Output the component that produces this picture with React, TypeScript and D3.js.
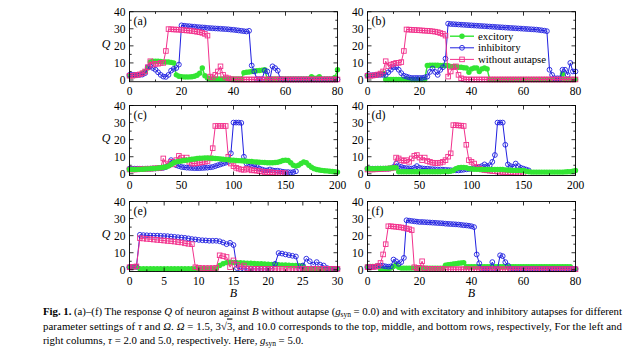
import React from "react";
import * as d3 from "d3";

// colours of the three cases
const GREEN = "#33e533";
const BLUE = "#2020e0";
const PINK = "#f2318c";

// ---- panel (a): B = 0..80, step 1
const aExc = [2.5, 2.5, 2.6, 3, 3.3, 4, 5, 7, 10.5, 11,
  11, 11, 10.8, 10.6, 10.5, 10.5, 10.3, 10, 3, 2.2,
  2, 1.8, 1.8, 1.8, 1.9, 2.2, 2.8, 4, 7, 2.5,
  1.2, 0.6, 0.6, 0.6, 0.6, 0.6, 0.6, 0.6, 0.6, 0.6,
  0.6, 0.6, 0.6, 0.6, 4.2, 4.5, 4.7, 5, 5.2, 5.4,
  5.6, 5.8, 6, 0.6, 0.6, 0.6, 0.6, 0.6, 0.6, 0.6,
  0.6, 0.6, 0.6, 0.6, 0.6, 0.6, 0.6, 0.6, 0.6, 0.6,
  2, 1, 1, 2, 0.6, 0.6, 0.6, 0.6, 0.6, 1.5,
  6];
const aInh = [3, 3, 3, 3, 3, 3.2, 4, 7.5, 8, 7,
  6, 4.5, 3, 2, 1.8, 3, 5.5, 6.5, 7, 9,
  32, 31.8, 31.6, 31.5, 31.3, 31.2, 31, 30.9, 30.8, 30.7,
  30.5, 30.4, 30.3, 30.2, 30.1, 30, 29.9, 29.8, 29.7, 29.5,
  29.4, 29.2, 29, 28.8, 28.6, 28.4, 28.8, 8.5, 5, 0.5,
  0.5, 0.5, 5.5, 5, 0.5, 8, 7, 5.5, 0.5, 0.3,
  0.3, 0.3, 0.3, 0.3, 0.3, 0.3, 0.3, 0.3, 0.3, 0.3,
  0.3, 0.3, 0.3, 0.3, 0.3, 0.3, 0.3, 0.3, 0.3, 0.3,
  0.3];
const aNo = [2.5, 2.5, 2.7, 3, 3.3, 4, 5, 7.5, 11, 9,
  9.5, 9.5, 10, 10, 17, 29.8, 29.7, 29.6, 29.5, 29.5,
  29.3, 29.2, 29, 28.9, 28.7, 28.5, 28.2, 28, 27.6, 27,
  26, 2, 1.5, 3, 5, 8, 3, 1.5, 1, 0.5,
  0.3, 0.3, 0.3, 0.3, 0.3, 0.3, 0.3, 0.3, 0.3, 0.3,
  0.3, 0.3, 0.3, 0.3, 0.3, 0.3, 0.3, 0.3, 0.3, 0.3,
  0.3, 0.3, 0.3, 0.3, 0.3, 0.3, 0.3, 0.3, 0.3, 0.3,
  0.3, 0.3, 0.3, 0.3, 0.3, 0.3, 0.3, 0.3, 0.3, 0.3,
  0.3];

// ---- panel (b): B = 0..80, step 1
const bExc = [2.5, 2.5, 2.6, 2.8, 3, 3.5, 4, 0.3, 0.3, 0.3,
  0.3, 0.3, 0.3, 0.3, 0.3, 0.3, 0.3, 0.3, 0.3, 0.3,
  0.3, 0.3, 0.3, 8.5, 8.6, 8.6, 8.6, 8.6, 8.5, 8.5,
  8.5, 8.3, 8, 8, 7.8, 7.5, 7.5, 7.2, 7, 4.5,
  6.5, 7, 7, 5, 6.5, 7, 6.5, 0.3, 0.3, 0.3,
  0.3, 0.3, 0.3, 0.3, 0.3, 0.3, 0.3, 0.3, 0.3, 0.3,
  0.3, 0.3, 0.3, 0.3, 0.3, 0.3, 0.3, 0.3, 0.3, 0.3,
  0.3, 0.3, 0.3, 0.3, 0.3, 3.5, 0.3, 0.3, 0.3, 0.3,
  0.3];
const bInh = [2.8, 2.8, 2.8, 2.9, 3, 3, 3, 3, 4.5, 6,
  7.5, 7.5, 6, 4, 2.5, 2, 1.5, 1.2, 1.2, 1.2,
  1.2, 1.2, 1.5, 2, 4.7, 6.7, 4.7, 3, 5.9, 7.5,
  12.5, 33, 32.8, 32.7, 32.6, 32.5, 32.4, 32.3, 32.2, 32.1,
  32, 31.9, 31.8, 31.7, 31.6, 31.5, 31.4, 31.3, 31.2, 31.1,
  31, 30.9, 30.8, 30.7, 30.6, 30.5, 30.4, 30.3, 30.2, 30.1,
  30, 29.9, 29.8, 29.7, 29.6, 29.5, 29.3, 29.1, 28.9, 28.6,
  6, 3, 1, 1, 1, 6, 6, 3, 10, 5,
  5];
const bNo = [2.5, 2.5, 2.6, 2.8, 3.2, 3.8, 5, 11, 8, 9,
  9.5, 10, 10, 10.5, 17, 29.6, 29.5, 29.4, 29.3, 29.2,
  29.1, 29, 28.9, 28.8, 28.7, 28.5, 28.3, 28, 27.5, 27,
  26, 2, 5, 7.5, 8, 3, 1, 0.5, 0.3, 0.3,
  0.3, 0.3, 0.3, 0.3, 0.3, 0.3, 0.3, 0.3, 0.3, 0.3,
  0.3, 0.3, 0.3, 0.3, 0.3, 0.3, 0.3, 0.3, 0.3, 0.3,
  0.3, 0.3, 0.3, 0.3, 0.3, 0.3, 0.3, 0.3, 0.3, 0.3,
  0.3, 0.3, 0.3, 0.3, 0.3, 0.3, 0.3, 0.3, 0.3, 0.3,
  0.3];

// ---- panel (c): B = 0..200, step 2.5
const cExc = [2.5, 2.5, 2.5, 2.6, 2.6, 2.7, 2.8, 2.9, 3, 3.1,
  3.2, 3.4, 3.6, 3.8, 4, 4.5, 5.5, 6.5, 7, 7.2,
  7.5, 7.8, 8, 8.2, 8.5, 8.7, 9, 9.1, 9.2, 9.3,
  9.3, 9.2, 9.1, 9, 8.9, 8.7, 8.5, 8.3, 8.2, 8,
  8, 7.8, 7.7, 7.6, 7.5, 7.4, 7.3, 7.2, 7, 6.9,
  6.8, 6.7, 6.6, 6.5, 6.5, 6.5, 6.6, 6.8, 7.2, 7.8,
  8, 7.8, 6.5, 5, 4.5, 5, 6, 7, 6.5, 5,
  3.8, 3, 2.5, 2.2, 2, 1.8, 1.7, 1.5, 1.3, 1.2,
  1];
const cInh = [3, 3, 3, 3, 3, 3, 3, 3, 3, 3.1,
  3.1, 3.2, 3.3, 3.5, 4, 5, 8, 7, 5, 4.5,
  4, 3.8, 3.6, 3.5, 3.4, 3.3, 3.3, 3.3, 3.4, 3.5,
  3.6, 3.8, 4, 4.5, 5, 5.5, 6, 6.5, 7, 12,
  30, 30, 30, 29.8, 10, 6, 5.5, 5, 4.5, 4,
  3, 2.5, 2, 2, 2.5, 2, 1.8, 1.8, 1.5, 1.2,
  1, 1, 0.8, 1, 1.5];
const cNo = [2.5, 2.5, 2.5, 2.6, 2.7, 2.8, 2.9, 3, 3, 3.1,
  3.2, 3.3, 3.5, 9, 6, 5, 7, 5.5, 8, 10.5,
  9.5, 8, 9.5, 7, 6, 6, 6.2, 6.5, 6.8, 7,
  7.5, 9, 15, 28, 28, 28, 28, 28, 10, 6,
  4.5, 3.5, 3, 2.5, 2.3, 3, 2.5, 2, 2, 1.8,
  1.5, 1.3, 1, 1, 1, 0.8, 0.6, 0.5, 0.5, 0.4,
  0.3];

// ---- panel (d): B = 0..200, step 2.5
const dExc = [3, 3, 3, 3, 3.1, 3.1, 3.2, 3.2, 3.3, 3.4,
  3.5, 3.6, 1.2, 1.2, 1.2, 1.2, 1.2, 1.2, 1.2, 1.2,
  1.2, 1.2, 1.2, 1.2, 1.2, 1.2, 1.2, 1.2, 1.2, 1.3,
  1.3, 1.3, 1.5, 2, 3, 3.5, 3.7, 3.7, 3.5, 3,
  2.8, 2.7, 2.6, 2.6, 2.5, 2.5, 2.5, 2.5, 2.5, 2.5,
  2.5, 2.5, 2.5, 2.3, 2.2, 2.1, 2, 2, 2, 2,
  2, 1.5, 1.2, 1, 1, 1, 1, 1, 1, 1,
  1, 1, 1, 1, 1, 1, 1.1, 1.2, 1.2, 1.5,
  2];
const dInh = [3, 3, 3, 3, 3, 3, 3, 3, 3, 3.2,
  4, 6, 4.5, 4, 3.5, 3.3, 3.2, 3, 3.5, 4.5,
  3.5, 3.2, 3, 3, 2.8, 2.7, 2.6, 2.5, 2.5, 2.4,
  2.3, 2.2, 2.1, 2, 2, 2, 2.2, 2.4, 2.6, 2.8,
  3, 3.3, 3.5, 4, 4.5, 5.5, 4.5, 5, 7, 11,
  30, 30, 30, 17, 5.5, 4.5, 4, 6, 4.5, 3.5,
  3, 2.5, 2];
const dNo = [2.5, 2.5, 2.5, 2.6, 2.7, 2.8, 2.9, 3, 3, 3.2,
  3.5, 9.5, 9, 8, 7.5, 8, 7, 9, 10.5, 11,
  9.5, 8, 9.5, 7.5, 7, 6.5, 6.3, 6.3, 6.5, 7,
  8, 10, 12, 28.5, 28.5, 28.3, 28.2, 28, 17, 8,
  7, 6, 4, 3, 2.5, 2.2, 2, 1.8, 1.6, 1.5,
  1.3, 1.2, 1, 1, 0.8, 0.8, 0.7, 0.6, 0.5, 0.5,
  0.5];

// ---- panel (e): B = 0..30, step 0.5
const eExc = [1.5, 1.6, 1.7, 0.6, 0.6, 0.6, 0.6, 0.6, 0.6, 0.6,
  0.6, 0.6, 0.6, 0.6, 0.6, 0.6, 0.6, 0.6, 0.6, 0.6,
  0.6, 0.6, 0.6, 0.6, 0.6, 0.7, 2.5, 3.5, 4.2, 4.5,
  4.3, 4.2, 4.1, 4, 3.9, 3.8, 3.7, 3.6, 3.5, 3.4,
  3.3, 3.2, 3.1, 3, 2.9, 2.8, 2.7, 2.6, 2.5, 2.4,
  2.2, 0.5, 0.5, 0.5, 0.5, 0.5, 0.5, 0.5, 0.5, 0.5,
  0.5];
const eInh = [1.5, 1.6, 1.8, 20.5, 20.3, 20.2, 20.1, 20, 20, 19.9,
  19.8, 19.7, 19.5, 19.3, 19.1, 18.9, 18.7, 18.4, 18, 17.8,
  17.5, 17.3, 17.2, 17, 17, 17, 16.7, 16, 15, 15.8,
  14.5, 1, 0.5, 0.5, 0.5, 0.5, 0.5, 0.5, 0.5, 0.5,
  0.5, 0.5, 3.5, 9.8, 9.5, 9, 8.6, 8.2, 7.8, 0.5,
  2.5, 6.5, 5, 3, 4.5, 3, 2.5, 1, 0.5, 0.5,
  0.5];
const eNo = [1.5, 1.7, 2, 18.5, 18.3, 18.1, 17.9, 17.7, 17.5, 17.3,
  17.1, 16.9, 16.7, 16.5, 16.2, 16, 15.5, 15.2, 15, 1.5,
  1.2, 1, 1, 1, 1, 1.2, 8.5, 8, 7.5, 1.5,
  5.5, 3, 1.5, 2.5, 0.8, 0.5, 0.5, 0.5, 0.5, 0.5,
  0.5, 0.5, 0.5, 0.5, 0.5, 0.5, 0.5, 0.5, 0.5, 0.5,
  0.5, 0.5, 0.5, 0.5, 0.5, 0.5, 0.5, 0.5, 0.5, 0.5,
  0.5];

// ---- panel (f): B = 0..80, step 1
const fExc = [2, 2, 2, 2, 2, 0.5, 0.5, 0.5, 0.5, 1,
  2, 3, 1.5, 1, 1, 1, 1, 1, 1, 1,
  1, 1, 1, 1, 1, 1, 1, 1, 1, 1,
  2.7, 3, 3.2, 3.4, 3.6, 3.8, 4, 4.2, 1.8, 1.8,
  1.8, 1.8, 1.8, 1.8, 1.8, 1.8, 1.8, 1.8, 1.8, 1.8,
  1.8, 1.8, 1.8, 1.8, 1.8, 1.8, 1.8, 1.8, 1.8, 1.8,
  1.8, 1.8, 1.8, 1.8, 1.8, 1.8, 1.8, 1.8, 1.8, 1.8,
  1.8, 1.8, 1.8, 1.8, 1.8, 1.8, 1.8, 1.8, 1.8, 0.5,
  0.5];
const fInh = [1.5, 1.5, 1.6, 1.8, 2.2, 2.5, 2.3, 2, 1.8, 2,
  6, 5, 3.5, 4.5, 7, 29, 28.8, 28.6, 28.4, 28.2,
  28, 28, 27.9, 27.8, 27.7, 27.6, 27.5, 27.4, 27.3, 27.2,
  27, 26.9, 26.8, 26.7, 26.6, 26.5, 26.3, 26.1, 26, 25.8,
  25.5, 25, 9, 3.8, 0.5, 0.5, 0.5, 0.5, 4.5, 0.5,
  0.5, 8.5, 8, 4.5, 2.5, 0.5, 0.5, 0.5, 0.5, 0.5,
  0.5, 0.5, 0.5, 0.5, 0.5, 0.5, 0.5, 0.5, 0.5, 0.5,
  0.5, 0.5, 0.5, 0.5, 0.5, 0.5, 0.5, 0.5, 0.5, 0.5,
  0.5];
const fNo = [1.5, 1.5, 1.6, 1.8, 2.2, 4, 9, 15, 25.5, 25.5,
  25.3, 25.2, 25, 24.8, 24.5, 24.2, 23.8, 23.2, 1.5, 1,
  1.2, 5, 0.8, 0.5, 0.5, 0.5, 0.5, 0.5, 0.5, 0.5,
  0.3, 0.3, 0.3, 0.3, 0.3, 0.3, 0.3, 0.3, 0.3, 0.3,
  0.3, 0.3, 0.3, 0.3, 0.3, 0.3, 0.3, 0.3, 0.3, 0.3,
  0.3, 0.3, 0.3, 0.3, 0.3, 0.3, 0.3, 0.3, 0.3, 0.3,
  0.3, 0.3, 0.3, 0.3, 0.3, 0.3, 0.3, 0.3, 0.3, 0.3,
  0.3, 0.3, 0.3, 0.3, 0.3, 0.3, 0.3, 0.3, 0.3, 0.3,
  0.3];

const yTicks = [0, 10, 20, 30, 40];
const xTicks80 = [0, 20, 40, 60, 80];
const xTicks200 = [0, 50, 100, 150, 200];
const xTicks30 = [0, 5, 10, 15, 20, 25, 30];
const legendNames = ["excitory", "inhibitory", "without autapse"];

const PW = 208;
const PH = 70;
const COLS = [129.5, 367.5];
const ROWS = [11.7, 105.5, 201.5];
const FONT = "'Liberation Serif', 'Times New Roman', serif";

const panels = [
  { tag: "(a)", col: 0, row: 0, xMax: 80, step: 1, ticks: xTicks80, minor: 10, exc: aExc, inh: aInh, no: aNo, greenTop: false },
  { tag: "(b)", col: 1, row: 0, xMax: 80, step: 1, ticks: xTicks80, minor: 10, exc: bExc, inh: bInh, no: bNo, greenTop: false, legend: true },
  { tag: "(c)", col: 0, row: 1, xMax: 200, step: 2.5, ticks: xTicks200, minor: 25, exc: cExc, inh: cInh, no: cNo, greenTop: true },
  { tag: "(d)", col: 1, row: 1, xMax: 200, step: 2.5, ticks: xTicks200, minor: 25, exc: dExc, inh: dInh, no: dNo, greenTop: true },
  { tag: "(e)", col: 0, row: 2, xMax: 30, step: 0.5, ticks: xTicks30, minor: 2.5, exc: eExc, inh: eInh, no: eNo, greenTop: false },
  { tag: "(f)", col: 1, row: 2, xMax: 80, step: 1, ticks: xTicks80, minor: 10, exc: fExc, inh: fInh, no: fNo, greenTop: false },
];

const Marker = ({ kind, cx, cy }) => {
  if (kind === "exc") return <circle cx={cx} cy={cy} r={2.7} fill={GREEN} />;
  if (kind === "inh") return <circle cx={cx} cy={cy} r={2.4} fill="none" stroke={BLUE} strokeWidth={0.9} />;
  return <rect x={cx - 2.3} y={cy - 2.3} width={4.6} height={4.6} fill="none" stroke={PINK} strokeWidth={0.9} />;
};

const colorOf = { exc: GREEN, inh: BLUE, no: PINK };

const Series = ({ vals, step, x, y, kind }) => {
  const pts = vals.map((q, i) => [i * step, q]);
  const path = d3.line().x(d => x(d[0])).y(d => y(d[1]))(pts);
  return (
    <g>
      <path d={path} fill="none" stroke={colorOf[kind]} strokeWidth={kind === "exc" ? 1.4 : 1} />
      {pts.map((d, i) => <Marker key={i} kind={kind} cx={x(d[0])} cy={y(d[1])} />)}
    </g>
  );
};

const Panel = ({ p }) => {
  const left = COLS[p.col];
  const top = ROWS[p.row];
  const x = d3.scaleLinear().domain([0, p.xMax]).range([left, left + PW]);
  const y = d3.scaleLinear().domain([-1, 40]).range([top + PH, top]);
  const bottom = top + PH;
  const right = left + PW;
  const xMinor = d3.range(0, p.xMax + 0.001, p.minor).filter(v => !p.ticks.includes(v));
  const yMinor = [5, 15, 25, 35];
  const order = p.greenTop ? ["inh", "no", "exc"] : ["exc", "inh", "no"];
  const data = { exc: p.exc, inh: p.inh, no: p.no };
  const tickLine = (k, x1, y1, x2, y2) => <line key={k} x1={x1} y1={y1} x2={x2} y2={y2} stroke="#000" strokeWidth={0.8} />;
  return (
    <g fontFamily={FONT}>
      {order.map(k => <Series key={k} vals={data[k]} step={p.step} x={x} y={y} kind={k} />)}
      <rect x={left} y={top} width={PW} height={PH} fill="none" stroke="#000" strokeWidth={0.9} />
      {p.ticks.map(t => (
        <g key={"xt" + t}>
          {tickLine("b", x(t), bottom, x(t), bottom - 4)}
          {tickLine("t", x(t), top, x(t), top + 4)}
          <text x={x(t)} y={bottom + 13.5} fontSize={11.5} textAnchor="middle">{t}</text>
        </g>
      ))}
      {xMinor.map(t => (
        <g key={"xm" + t}>
          {tickLine("b", x(t), bottom, x(t), bottom - 2.2)}
          {tickLine("t", x(t), top, x(t), top + 2.2)}
        </g>
      ))}
      {yTicks.map(t => (
        <g key={"yt" + t}>
          {tickLine("l", left, y(t), left + 4, y(t))}
          {tickLine("r", right, y(t), right - 4, y(t))}
          <text x={left - 4} y={y(t) + 4} fontSize={11.5} textAnchor="end">{t}</text>
        </g>
      ))}
      {yMinor.map(t => (
        <g key={"ym" + t}>
          {tickLine("l", left, y(t), left + 2.2, y(t))}
          {tickLine("r", right, y(t), right - 2.2, y(t))}
        </g>
      ))}
      <text x={left + 4} y={top + 13} fontSize={12}>{p.tag}</text>
      {p.col === 0 && (
        <text x={106} y={y(21) + 4} fontSize={12} fontStyle="italic" textAnchor="middle">Q</text>
      )}
      {p.row === 2 && (
        <text x={left + PW / 2} y={bottom + 25} fontSize={12} fontStyle="italic" textAnchor="middle">B</text>
      )}
      {p.legend && (
        <g>
          {["exc", "inh", "no"].map((k, i) => {
            const ly = top + 24.5 + i * 11.6;
            return (
              <g key={k}>
                <line x1={450} x2={474} y1={ly} y2={ly} stroke={colorOf[k]} strokeWidth={k === "exc" ? 1.4 : 1} />
                <Marker kind={k} cx={462} cy={ly} />
                <text x={478} y={ly + 3.6} fontSize={10.8}>{legendNames[i]}</text>
              </g>
            );
          })}
        </g>
      )}
    </g>
  );
};

const Caption = () => (
  <g fontFamily={FONT} fontSize={10.8}>
    <text x={43} y={314.5} textLength={579} lengthAdjust="spacing">
      <tspan fontWeight="bold">Fig. 1.</tspan> (a)–(f) The response <tspan fontStyle="italic">Q</tspan> of neuron against{" "}
      <tspan fontStyle="italic">B</tspan> without autapse (<tspan fontStyle="italic">g</tspan>
      <tspan dy={2.5} fontSize={7.5}>syn</tspan>
      <tspan dy={-2.5}> = 0.0) and with excitatory and inhibitory autapses for different</tspan>
    </text>
    <text x={43} y={329.5} textLength={579} lengthAdjust="spacing">
      parameter settings of <tspan fontStyle="italic">τ</tspan> and <tspan fontStyle="italic">Ω</tspan>.{" "}
      <tspan fontStyle="italic">Ω</tspan> = 1.5, 3√<tspan style={{ textDecoration: "overline" }}>3</tspan>, and 10.0 corresponds to the top, middle, and bottom rows, respectively, For the left and
    </text>
    <text x={43} y={343.5}>
      right columns, <tspan fontStyle="italic">τ</tspan> = 2.0 and 5.0, respectively. Here, <tspan fontStyle="italic">g</tspan>
      <tspan dy={2.5} fontSize={7.5}>syn</tspan>
      <tspan dy={-2.5}> = 5.0.</tspan>
    </text>
  </g>
);

export default function App() {
  return (
    <svg width={644} height={354} style={{ position: "absolute", left: 0, top: 0, background: "#fff" }}>
      {panels.map(p => <Panel key={p.tag} p={p} />)}
      <Caption />
    </svg>
  );
}
